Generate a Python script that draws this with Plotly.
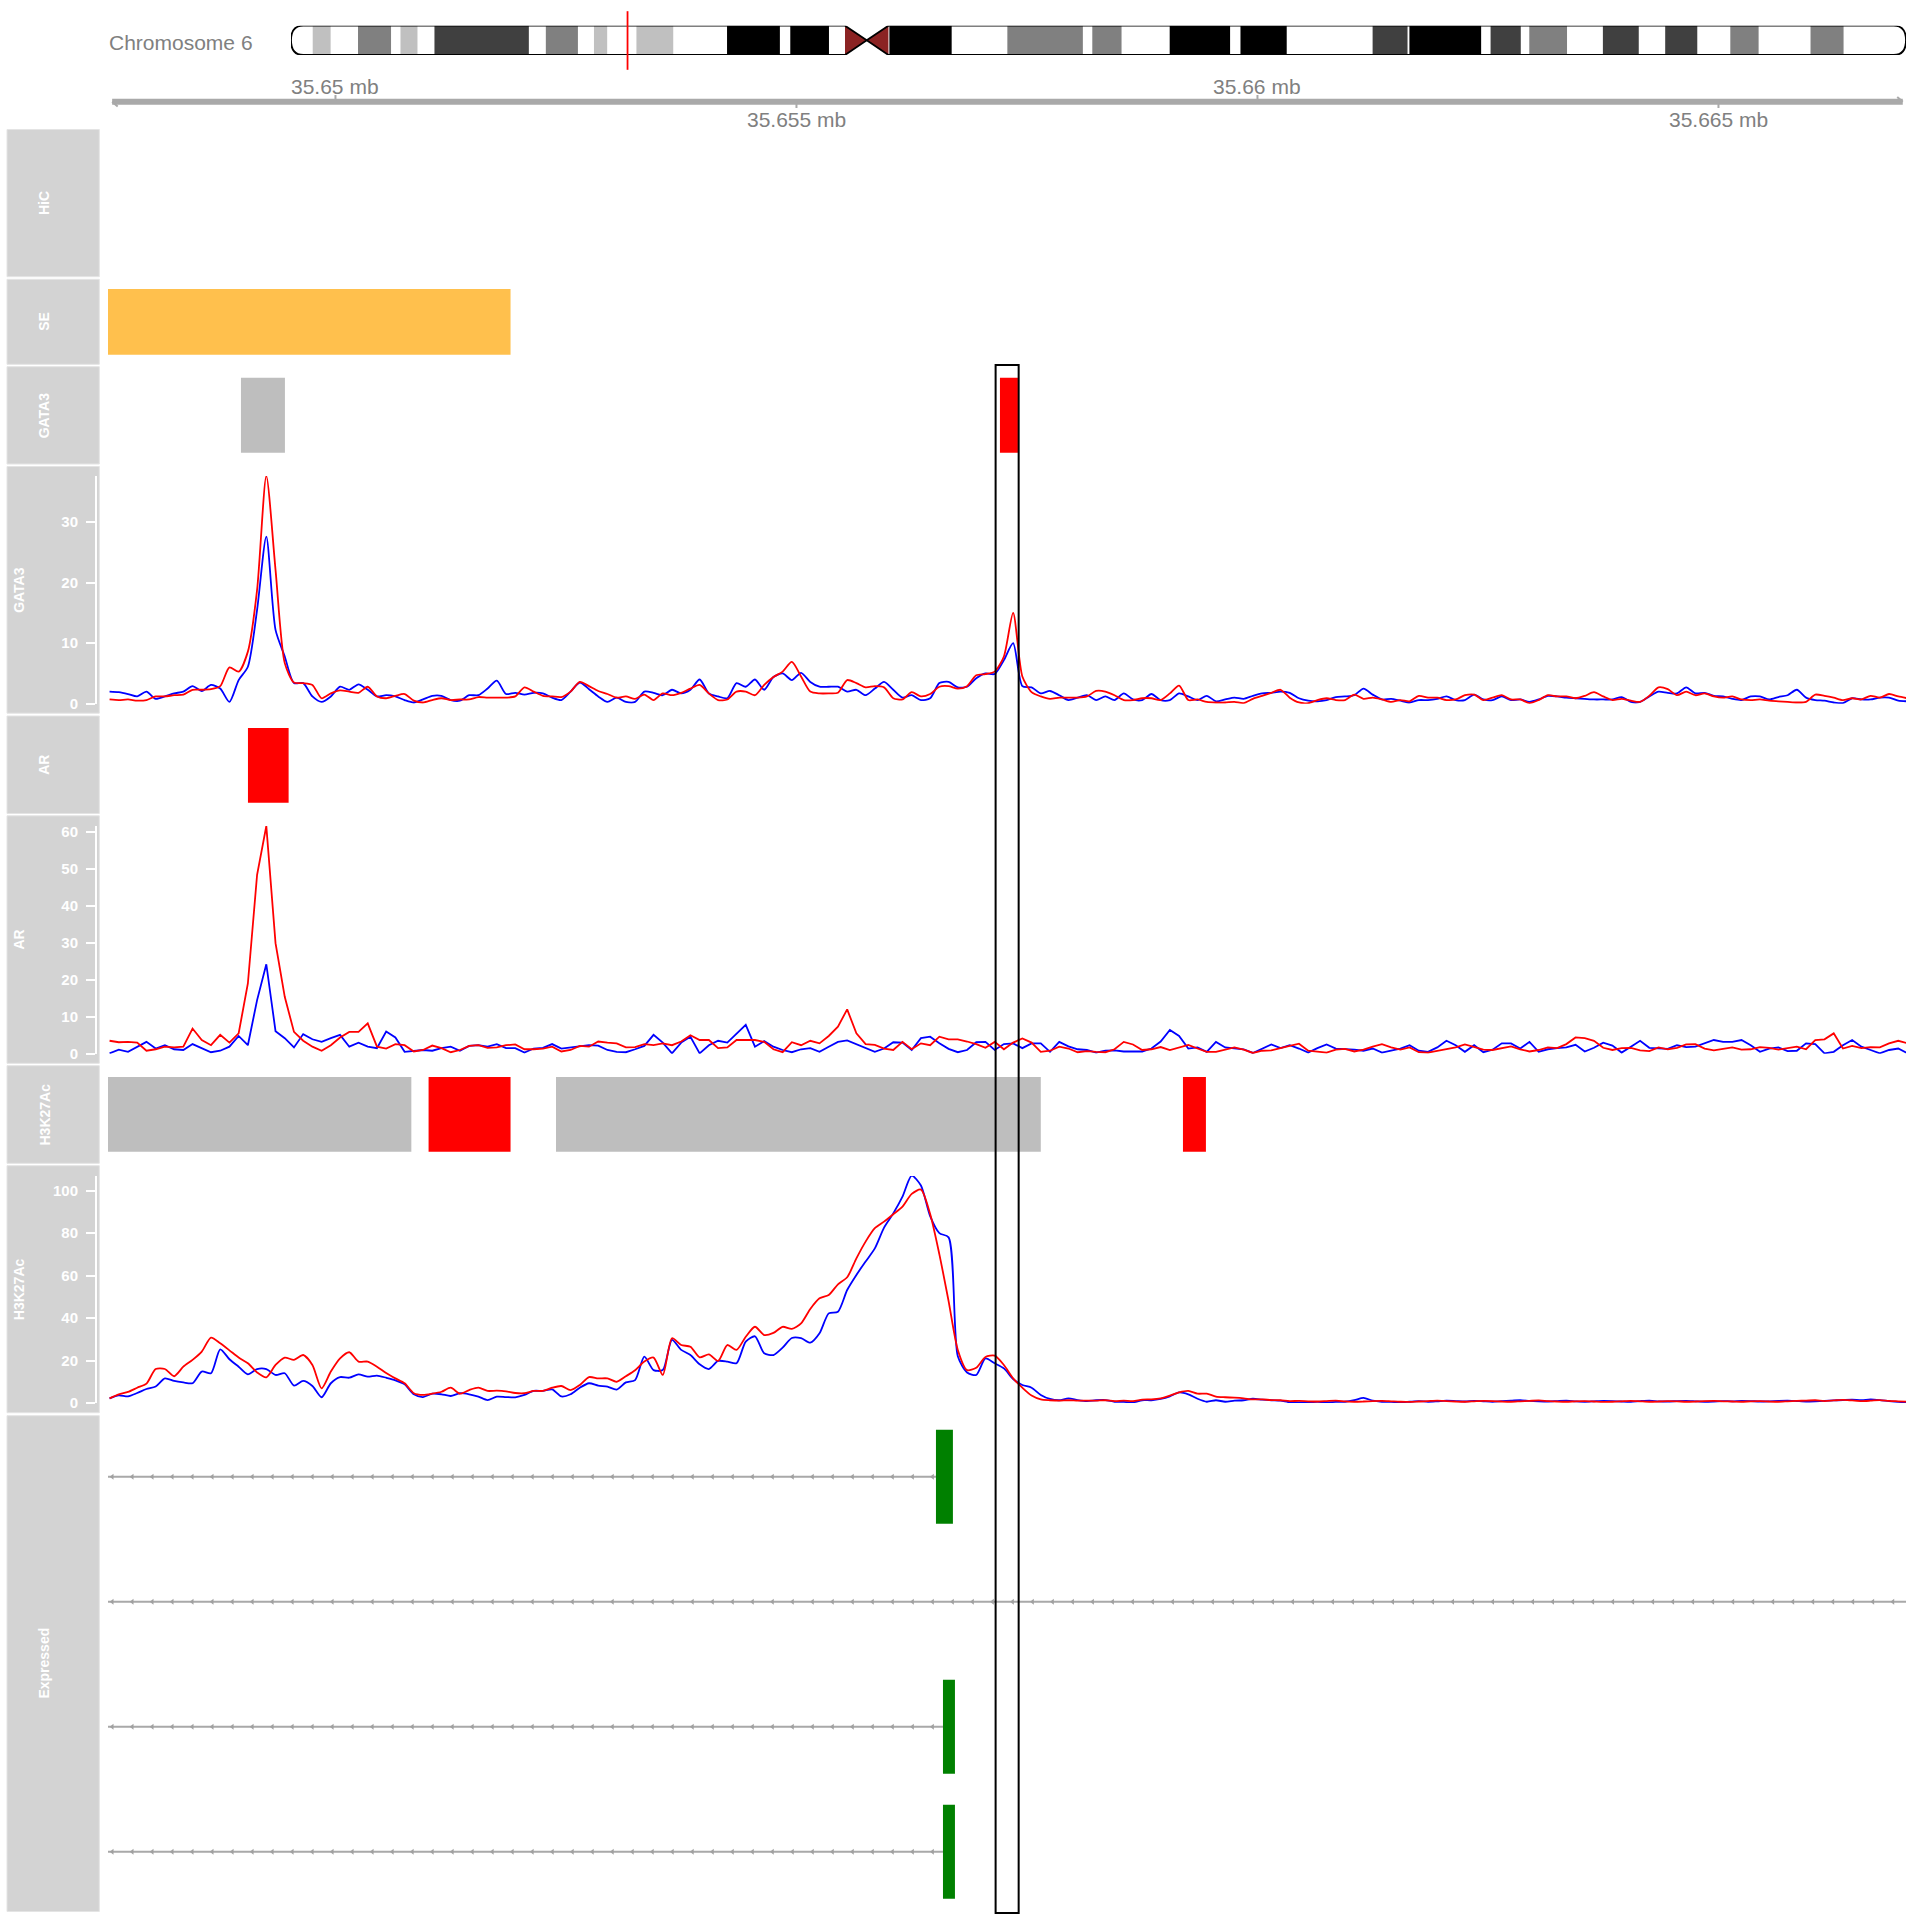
import numpy as np
import plotly.graph_objects as go

FONT = "Liberation Sans, Arial, Helvetica, sans-serif"
W = H = 1920

# ---------------- data ----------------
CHROM_LABEL = "Chromosome 6"
CHR_LEN = 171115067
REGION_START = 35647533
REGION_END = 35667034

# hg19 chr6 cytobands
band_starts = [0, 2300000, 4200000, 7100000, 10600000, 11600000, 13400000, 15200000,
               25200000, 27000000, 30400000, 32100000, 33500000, 36600000, 40500000,
               46200000, 51800000, 52900000, 57000000, 58700000, 61000000, 63300000,
               63400000, 70000000, 75900000, 83900000, 84900000, 88000000, 93100000,
               99500000, 100600000, 105500000, 114600000, 118300000, 118500000,
               126100000, 127100000, 130300000, 131200000, 135200000, 139000000,
               142800000, 145600000, 149000000, 152500000, 155500000, 161000000, 164500000]
band_stains = ["gneg", "gpos25", "gneg", "gpos50", "gneg", "gpos25", "gneg", "gpos75",
               "gneg", "gpos50", "gneg", "gpos25", "gneg", "gpos25", "gneg", "gpos100",
               "gneg", "gpos100", "gneg", "acen", "acen", "gneg", "gpos100", "gneg",
               "gpos50", "gneg", "gpos50", "gneg", "gpos100", "gneg", "gpos100", "gneg",
               "gpos75", "gneg", "gpos100", "gneg", "gpos75", "gneg", "gpos50", "gneg",
               "gpos75", "gneg", "gpos75", "gneg", "gpos50", "gneg", "gpos50", "gneg"]
band_ends = band_starts[1:] + [CHR_LEN]

ruler_ticks = [35650000, 35655000, 35660000, 35665000]

BIN_START = 35647550
BIN_SIZE = 100

gata3_blue = [2.0,1.9,1.6,1.2,2.0,0.8,1.2,1.7,2.0,2.9,
              2.1,3.1,2.5,0.3,3.9,6.1,15.5,27.6,12.2,7.8,
              3.4,3.4,1.2,0.3,1.2,2.8,2.3,3.2,2.3,1.2,
              1.4,1.2,0.6,0.2,0.7,1.3,1.3,0.6,0.5,1.4,
              1.4,2.5,3.8,1.6,1.8,1.5,1.8,1.7,1.0,0.6,
              2.0,3.5,2.4,1.2,0.3,1.0,0.3,0.3,2.0,1.8,
              1.4,2.3,1.7,2.3,4.0,1.7,1.2,0.9,3.4,2.8,
              4.0,2.3,4.4,5.0,3.9,5.1,3.6,2.8,2.8,2.8,
              2.0,2.3,1.4,2.5,3.6,2.3,1.0,1.4,0.6,0.9,
              3.4,3.6,2.7,2.8,4.2,5.0,4.9,7.2,10.0,2.9,
              2.7,1.7,2.1,1.4,0.6,1.0,1.4,0.6,1.2,0.6,
              1.7,0.7,0.6,1.6,0.6,0.6,1.7,1.2,0.6,1.3,
              0.4,0.7,1.0,0.8,1.3,1.7,1.8,2.0,1.8,0.9,
              0.5,0.4,0.6,1.1,1.2,1.4,2.5,1.5,0.7,0.8,
              0.5,0.2,0.6,0.6,0.8,1.2,0.6,0.6,1.5,0.7,
              0.6,1.2,0.6,0.7,0.3,0.7,1.3,1.2,1.0,0.9,
              0.8,0.7,0.7,0.7,1.1,0.3,0.3,1.2,2.0,1.8,
              1.7,2.7,1.7,1.8,1.3,1.2,0.8,0.6,1.2,1.2,
              0.7,1.1,1.4,2.3,1.0,0.6,0.5,0.2,0.1,0.9,
              0.7,0.7,1.0,1.0,0.5,0.4]
gata3_red = [0.7,0.6,0.7,0.5,0.6,1.2,1.2,1.4,1.5,2.3,
             2.3,2.4,2.9,6.0,5.3,8.6,18.8,37.6,22.1,6.7,
             3.5,3.4,3.1,0.9,1.7,2.2,2.0,1.8,2.8,1.2,
             0.9,1.3,1.6,0.5,0.2,0.6,0.9,0.6,0.7,0.7,
             1.1,1.0,1.0,1.0,1.2,2.7,2.0,1.3,1.2,1.1,
             2.0,3.6,2.9,2.1,1.6,1.0,1.2,0.8,1.5,0.6,
             1.7,1.4,1.8,2.5,3.1,1.7,0.6,0.7,2.0,2.0,
             1.4,3.1,4.4,5.3,6.9,4.5,2.0,1.7,1.7,1.8,
             3.9,3.4,2.7,2.9,2.7,0.9,0.7,1.9,1.2,1.6,
             2.8,2.9,2.5,2.9,4.7,4.9,5.3,7.8,15.0,4.5,
             1.9,1.2,0.8,1.0,1.0,1.0,1.2,2.1,2.0,1.4,
             0.6,0.6,0.9,0.9,0.6,1.7,3.0,0.6,0.7,0.3,
             0.2,0.2,0.3,0.1,0.8,1.3,1.8,2.3,1.0,0.2,
             0.1,0.6,0.9,0.6,0.6,1.5,0.8,1.0,0.7,0.3,
             0.6,0.4,1.3,1.0,1.0,0.6,0.7,1.4,1.5,0.6,
             1.0,1.4,0.7,0.7,0.1,0.6,1.4,1.2,1.2,0.9,
             1.3,1.9,1.2,0.6,0.8,0.5,0.3,1.3,2.7,2.4,
             1.4,2.0,1.4,1.7,1.2,1.0,1.2,0.7,0.6,0.7,
             0.5,0.4,0.3,0.2,0.3,1.5,1.3,1.0,0.6,0.9,
             0.7,1.3,1.0,1.6,1.2,0.9]

ar_blue = [0.1,1.1,0.5,1.9,3.2,1.4,2.3,1.2,1.0,2.6,
           1.5,0.4,0.8,1.9,4.8,2.3,14.5,24.2,6.1,4.2,
           1.7,5.3,3.9,3.2,4.2,5.1,1.9,3.0,1.9,1.5,
           6.0,4.4,0.5,0.8,1.0,0.8,1.5,1.9,0.8,2.1,
           2.3,1.9,2.6,1.5,1.5,0.3,1.4,1.6,2.6,1.4,
           1.7,1.9,2.3,2.2,1.0,0.5,0.4,1.2,2.1,5.1,
           3.0,0.1,3.0,4.6,0.1,2.3,3.5,3.0,5.5,7.8,
           1.9,3.4,1.9,1.0,0.4,1.2,1.5,0.5,1.9,3.2,
           3.6,2.6,1.6,0.5,1.4,3.1,3.0,1.0,4.2,4.6,
           2.8,1.3,0.4,1.0,3.1,3.2,1.0,2.6,2.8,1.5,
           2.8,2.8,0.5,3.2,2.0,1.2,1.0,0.3,0.8,0.9,
           0.6,0.7,0.6,1.4,3.3,6.4,4.8,1.4,1.7,0.5,
           3.2,1.7,1.4,1.2,0.2,1.4,2.5,1.5,2.3,1.4,
           0.3,1.5,2.5,1.4,1.3,1.1,0.8,1.4,0.3,0.8,
           1.4,2.3,0.8,0.5,1.7,3.5,2.3,0.5,2.3,0.4,
           1.1,2.8,2.8,1.4,3.2,0.5,1.2,1.5,1.7,2.4,
           0.6,1.6,3.0,2.2,0.3,1.9,3.5,1.6,1.4,1.3,
           2.3,1.8,1.9,2.7,3.7,3.2,3.2,3.7,2.3,0.5,
           1.4,1.7,0.7,0.8,2.8,2.6,0.1,0.5,2.3,3.7,
           1.9,1.0,0.1,1.0,1.4,0.1]
ar_red = [3.5,3.1,3.2,3.0,0.8,1.2,1.9,1.7,1.9,6.8,
          3.7,2.3,5.1,3.0,5.5,19.0,48.4,61.6,29.9,15.4,
          5.9,3.5,1.9,0.8,2.3,4.4,5.9,5.9,8.2,1.9,
          1.4,2.6,2.3,0.6,1.0,2.2,1.5,0.4,1.0,2.1,
          2.3,1.6,1.7,2.3,2.5,1.2,1.2,1.4,1.9,0.6,
          1.0,2.1,1.9,3.3,3.0,2.8,1.7,1.8,2.6,2.3,
          2.8,2.3,3.3,5.0,3.7,3.7,1.5,1.7,3.7,3.7,
          3.7,3.2,1.2,0.4,3.1,2.3,3.5,2.8,4.8,7.3,
          12.0,5.5,2.6,2.4,1.4,1.0,3.2,1.2,2.8,2.3,
          4.6,3.9,3.9,3.3,2.6,1.6,3.2,1.2,3.0,4.1,
          3.0,0.5,0.8,1.9,1.4,0.4,0.7,0.5,0.4,1.2,
          3.2,2.5,1.0,1.2,1.8,1.0,1.7,2.4,1.4,0.5,
          0.5,1.1,1.7,1.1,0.2,0.8,0.9,1.5,2.2,2.7,
          0.8,0.6,0.3,1.1,1.3,0.6,1.1,1.9,2.6,1.7,
          1.1,1.7,0.4,0.3,0.8,1.3,1.7,2.5,1.8,1.1,
          1.0,1.5,2.0,1.2,0.6,1.0,1.7,1.5,2.6,4.4,
          4.2,3.5,1.6,1.0,1.5,1.6,0.9,0.7,1.7,1.2,
          1.6,2.5,2.6,1.4,0.9,1.3,1.7,1.1,1.2,1.8,
          1.6,1.1,1.6,1.9,1.2,3.7,3.9,5.5,1.4,2.1,
          1.5,1.8,1.7,2.8,3.5,2.8]

h3k27ac_blue = [2.2,3.6,3.1,4.7,6.6,7.8,11.6,10.4,9.7,9.3,
                14.8,14.0,25.3,20.6,17.1,13.5,16.0,16.0,13.2,14.0,
                8.2,10.4,8.0,2.7,9.3,12.2,11.9,13.5,12.4,12.9,
                11.9,10.7,8.8,4.1,2.8,4.4,4.1,3.3,4.6,4.1,
                3.0,1.4,3.0,2.8,2.7,3.8,5.7,5.7,6.4,3.1,
                4.1,7.2,9.3,8.2,7.7,6.3,9.7,10.8,21.8,15.5,
                15.5,29.7,25.0,22.6,18.2,16.0,19.8,19.5,18.7,28.9,
                31.4,23.4,22.6,26.1,30.6,30.5,28.4,32.8,42.2,43.0,
                53.2,60.3,66.6,72.8,82.6,89.3,97.2,107.1,102.4,88.0,
                80.0,78.0,22.0,14.4,13.2,21.0,18.7,16.3,11.3,8.5,
                7.2,3.8,1.9,1.3,2.2,1.4,0.9,1.3,1.4,0.6,
                0.5,0.3,1.3,1.3,1.9,3.1,5.0,4.1,2.0,0.6,
                1.3,0.6,1.1,1.3,2.0,1.6,1.3,1.1,0.3,0.3,
                0.3,0.5,0.3,0.5,0.6,1.3,2.4,1.1,0.6,
                0.5,0.3,0.6,0.9,0.6,0.8,1.1,0.9,0.7,1.0,
                0.8,0.6,0.9,1.1,1.4,1.0,0.8,0.7,0.9,1.1,
                0.8,0.6,0.8,1.0,0.9,0.7,0.6,0.9,1.1,0.8,
                0.7,0.9,1.0,0.8,0.6,0.7,0.9,0.8,1.0,0.9,
                0.7,0.8,1.0,1.1,0.9,0.7,0.8,1.0,1.2,1.4,
                1.6,1.3,1.7,1.4,0.9,0.5,0.3]
h3k27ac_red = [2.2,4.1,5.2,7.2,9.1,16.0,16.0,12.6,17.1,20.3,
               24.2,30.8,28.1,24.8,21.4,18.7,14.4,12.1,17.9,21.4,
               20.3,22.6,17.9,6.9,14.8,21.0,23.9,19.5,19.5,17.1,
               14.1,11.6,9.3,4.6,3.8,4.4,5.3,7.2,4.4,6.1,
               7.2,5.7,5.8,5.5,4.7,4.6,5.7,5.7,7.2,8.0,
               6.1,8.5,12.2,11.6,11.6,10.0,12.6,15.4,19.5,21.4,
               13.2,30.5,27.3,26.5,21.5,22.9,19.8,27.3,25.0,31.2,
               35.9,32.0,33.0,35.9,34.9,37.5,44.3,49.3,50.9,55.9,
               59.2,68.1,76.0,82.3,85.4,88.9,92.5,98.5,100.5,89.0,
               70.0,48.0,25.0,15.5,16.6,21.7,22.3,17.9,11.6,7.2,
               3.5,1.7,1.3,1.1,1.3,1.1,1.1,1.1,1.3,0.9,
               1.1,0.9,1.6,1.7,2.2,3.5,5.0,5.7,4.4,4.4,
               3.0,2.7,2.5,2.2,1.7,1.7,1.4,1.3,0.9,
               1.0,0.8,0.7,0.9,1.1,0.8,0.6,0.7,0.9,1.0,
               0.8,0.6,0.5,0.7,0.9,1.1,0.9,0.7,0.6,0.8,
               1.0,0.9,0.7,0.6,0.8,1.0,1.2,0.9,0.7,0.6,
               0.8,0.9,0.7,0.5,0.6,0.8,1.0,0.8,0.6,0.7,
               0.9,0.8,0.6,0.7,0.9,1.0,0.8,0.7,0.6,0.8,
               0.9,0.7,0.6,0.8,1.0,1.1,1.3,0.9,1.2,1.5,
               1.2,0.9,1.1,1.4,1.0,0.8,0.6]

# annotation (peak) tracks: starts, ends, status
se_starts = [REGION_START]
se_ends = [35651899]
gata3_pk_starts = [35648975, 35657207]
gata3_pk_ends = [35649452, 35657402]
gata3_pk_status = ["common", "gained"]
ar_pk_starts = [35649051]
ar_pk_ends = [35649492]
ar_pk_status = ["gained"]
h3_pk_starts = [REGION_START, 35651010, 35652392, 35659192]
h3_pk_ends = [35650823, 35651899, 35657650, 35659441]
h3_pk_status = ["common", "gained", "common", "gained"]

highlight_start = 35657160
highlight_end = 35657410

# expressed transcripts (minus strand)
gene_rows = [1, 2, 3, 4]
gene_ends = [35656697, REGION_END, 35656719, 35656719]
exon_starts = [35656513, None, 35656589, 35656589]
exon_ends = [35656697, None, 35656719, 35656719]
CHEVRON_START = 35647579
CHEVRON_STEP = 217

# ---------------- styles ----------------
STAIN_COL = {"gpos25": "#C0C0C0", "gpos50": "#808080", "gpos75": "#404040",
             "gpos100": "#000000", "acen": "#8B2323"}
STATUS_COL = {"common": "#BEBEBE", "gained": "#FF0000"}
SE_COL = "#FFC04D"
LABEL_BG = "#D3D3D3"


def py(p):
    return 1 - p / H


shapes = []
annotations = []
traces = []

# ---------------- ideogram ----------------
cen0 = band_starts[band_stains.index("acen")]
cen1 = band_ends[len(band_stains) - 1 - band_stains[::-1].index("acen")]
cenmid = band_ends[band_stains.index("acen")]
for s, e, st in zip(band_starts, band_ends, band_stains):
    if st in ("gneg", "acen"):
        continue
    shapes.append(dict(type="rect", xref="x2", yref="y5", x0=s, x1=e, y0=0, y1=1,
                       fillcolor=STAIN_COL[st], line=dict(width=0)))
shapes.append(dict(type="path", xref="x2", yref="y5",
                   path=f"M {cen0},1 L {cen0},0 L {cenmid},0.5 Z",
                   fillcolor=STAIN_COL["acen"], line=dict(width=0)))
shapes.append(dict(type="path", xref="x2", yref="y5",
                   path=f"M {cen1},1 L {cen1},0 L {cenmid},0.5 Z",
                   fillcolor=STAIN_COL["acen"], line=dict(width=0)))
r = 1.3e6
shapes.append(dict(type="path", xref="x2", yref="y5",
                   path=f"M {cen0},1 L {r},1 Q 0,1 0,0.5 Q 0,0 {r},0 L {cen0},0 L {cenmid},0.5 Z",
                   line=dict(color="black", width=1.8)))
shapes.append(dict(type="path", xref="x2", yref="y5",
                   path=f"M {cen1},1 L {CHR_LEN - r},1 Q {CHR_LEN},1 {CHR_LEN},0.5 "
                        f"Q {CHR_LEN},0 {CHR_LEN - r},0 L {cen1},0 L {cenmid},0.5 Z",
                   line=dict(color="black", width=1.8)))
shapes.append(dict(type="rect", xref="x2", yref="paper", x0=REGION_START, x1=REGION_END,
                   y0=py(69), y1=py(12), line=dict(color="#FF0000", width=1.6)))
annotations.append(dict(text=CHROM_LABEL, xref="paper", yref="paper", x=107 / W, y=py(42.5),
                        xanchor="left", yanchor="middle", showarrow=False,
                        font=dict(family=FONT, size=21, color="#808080")))
traces.append(go.Scatter(x=[0, CHR_LEN], y=[0, 1], xaxis="x2", yaxis="y5", mode="markers",
                         marker=dict(opacity=0), hoverinfo="skip", showlegend=False))

# ---------------- genome axis ----------------
ax_x0 = REGION_START + 45
ax_x1 = REGION_END - 35
shapes.append(dict(type="line", xref="x", yref="paper", x0=ax_x0, x1=ax_x1,
                   y0=py(101.7), y1=py(101.7), line=dict(color="#A9A9A9", width=6)))
shapes.append(dict(type="line", xref="x", yref="paper", x0=ax_x0, x1=ax_x0 + 60,
                   y0=py(101.7), y1=py(106.5), line=dict(color="#A9A9A9", width=2)))
shapes.append(dict(type="line", xref="x", yref="paper", x0=ax_x1, x1=ax_x1 - 60,
                   y0=py(101.7), y1=py(96.9), line=dict(color="#A9A9A9", width=2)))
for i, t in enumerate(ruler_ticks):
    above = (i % 2 == 0)
    shapes.append(dict(type="line", xref="x", yref="paper", x0=t, x1=t,
                       y0=py(95 if above else 101), y1=py(101 if above else 108),
                       line=dict(color="#A9A9A9", width=2)))
    annotations.append(dict(text=f"{t / 1e6:g} mb", xref="x", yref="paper", x=t,
                            y=py(86.7 if above else 119), xanchor="center", yanchor="middle",
                            showarrow=False, font=dict(family=FONT, size=21, color="#808080")))

# ---------------- track label panels ----------------
panels = [("HiC", 129.5, 276.7, "anno"), ("SE", 279.3, 364.3, "anno"),
          ("GATA3", 366.7, 464.0, "anno"), ("GATA3", 466.5, 713.2, "sig"),
          ("AR", 716.0, 813.5, "anno"), ("AR", 815.8, 1063.3, "sig"),
          ("H3K27Ac", 1065.7, 1163.3, "anno"), ("H3K27Ac", 1165.7, 1412.7, "sig"),
          ("Expressed", 1415.7, 1911.5, "anno")]
for name, top, bot, kind in panels:
    shapes.append(dict(type="rect", xref="paper", yref="paper", x0=7 / W, x1=99.3 / W,
                       y0=py(bot), y1=py(top), fillcolor=LABEL_BG,
                       line=dict(width=1, color="#E4E4E4"), layer="below"))
    annotations.append(dict(text=name, xref="paper", yref="paper",
                            x=(44 if kind == "anno" else 19) / W, y=py((top + bot) / 2),
                            textangle=-90, showarrow=False, xanchor="center", yanchor="middle",
                            font=dict(family=FONT, size=14, color="white", weight="bold")))


# ---------------- annotation tracks ----------------
def add_boxes(starts, ends, colors, top, bot):
    for s, e, c in zip(starts, ends, colors):
        shapes.append(dict(type="rect", xref="x", yref="paper", x0=s, x1=e,
                           y0=py(bot), y1=py(top), fillcolor=c, line=dict(width=0)))


add_boxes(se_starts, se_ends, [SE_COL] * len(se_starts), 289, 354.7)
add_boxes(gata3_pk_starts, gata3_pk_ends, [STATUS_COL[s] for s in gata3_pk_status], 377.7, 452.7)
add_boxes(ar_pk_starts, ar_pk_ends, [STATUS_COL[s] for s in ar_pk_status], 728, 802.7)
add_boxes(h3_pk_starts, h3_pk_ends, [STATUS_COL[s] for s in h3_pk_status], 1077, 1151.7)


# ---------------- signal tracks ----------------
def add_signal(blue, red, yax, shape):
    for vals, col in ((blue, "#0000FF"), (red, "#FF0000")):
        pos = BIN_START + BIN_SIZE * np.arange(len(vals))
        line = dict(color=col, width=1.8, shape=shape)
        if shape == "spline":
            line["smoothing"] = 0.7
        traces.append(go.Scatter(x=pos, y=vals, xaxis="x", yaxis=yax, mode="lines",
                                 line=line, hoverinfo="skip", showlegend=False))


add_signal(gata3_blue, gata3_red, "y", "spline")
add_signal(ar_blue, ar_red, "y2", "linear")
add_signal(h3k27ac_blue, h3k27ac_red, "y3", "spline")

# ---------------- gene track ----------------
for row, gend, es, ee in zip(gene_rows, gene_ends, exon_starts, exon_ends):
    line_end = es if es is not None else gend
    traces.append(go.Scatter(x=[REGION_START, line_end], y=[row, row], xaxis="x", yaxis="y4",
                             mode="lines", line=dict(color="#A9A9A9", width=2),
                             hoverinfo="skip", showlegend=False))
    chev = np.arange(CHEVRON_START, line_end - 20, CHEVRON_STEP)
    traces.append(go.Scatter(x=chev, y=[row] * len(chev), xaxis="x", yaxis="y4", mode="markers",
                             marker=dict(symbol="triangle-left", size=5, color="#A0A0A0"),
                             hoverinfo="skip", showlegend=False))
    if es is not None:
        shapes.append(dict(type="rect", xref="x", yref="y4", x0=es, x1=ee,
                           y0=row - 0.376, y1=row + 0.376, fillcolor="#008000",
                           line=dict(width=0)))

# highlight
shapes.append(dict(type="rect", xref="x", yref="paper", x0=highlight_start, x1=highlight_end,
                   y0=py(1913), y1=py(365), line=dict(color="black", width=2),
                   fillcolor="rgba(0,0,0,0)"))

# ---------------- layout ----------------
fig = go.Figure(traces)


def sig_axis(top, bot, ymax, dtick):
    return dict(domain=[py(bot), py(top)], range=[0, ymax], anchor="free", position=96 / W,
                side="left", showline=True, linecolor="white", linewidth=2,
                ticks="outside", ticklen=9, tickwidth=2, tickcolor="white",
                tickmode="linear", tick0=0, dtick=dtick, ticklabelstandoff=5,
                tickfont=dict(family=FONT, size=15, color="white", weight="bold"),
                showgrid=False, zeroline=False, fixedrange=True)


fig.update_layout(
    width=W, height=H, autosize=False,
    margin=dict(l=0, r=0, t=0, b=0, pad=0, autoexpand=False),
    paper_bgcolor="white", plot_bgcolor="rgba(0,0,0,0)",
    showlegend=False,
    xaxis=dict(domain=[108 / W, 1906 / W], range=[REGION_START, REGION_END], visible=False,
               anchor="y", fixedrange=True),
    xaxis2=dict(domain=[291 / W, 1906 / W], range=[0, CHR_LEN], visible=False,
                anchor="y5", fixedrange=True),
    yaxis=sig_axis(476, 703.7, 37.6, 10),
    yaxis2=sig_axis(826, 1053.7, 61.6, 10),
    yaxis3=sig_axis(1176, 1403, 106.9, 20),
    yaxis4=dict(domain=[py(1911), py(1416)], range=[4.474, 0.514], visible=False,
                anchor="x", fixedrange=True),
    yaxis5=dict(domain=[py(55), py(25.7)], range=[0, 1], visible=False,
                anchor="x2", fixedrange=True),
    shapes=shapes,
    annotations=annotations,
)

post = ("var s=document.createElement('style');"
        "s.textContent='html,body{margin:0;padding:0;overflow:hidden;}body>div{line-height:0;font-size:0;}';"
        "document.head.appendChild(s);")
fig.write_html("out.html", config={"displayModeBar": False}, post_script=post)
